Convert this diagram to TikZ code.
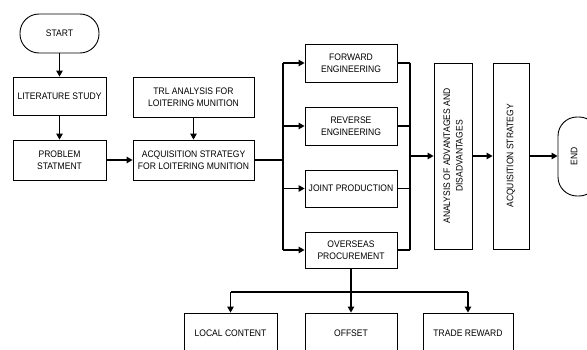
\documentclass[tikz,border=0pt]{standalone}
\usepackage{fontspec}
\setmainfont[FakeStretch=0.9]{Liberation Sans}
\usetikzlibrary{arrows.meta,calc}
\begin{document}
\begin{tikzpicture}[x=1pt,y=-1pt,
  every node/.style={font=\fontsize{9.5}{12.5}\selectfont},
  box/.style={draw, line width=0.9pt, inner sep=0pt, align=center},
  term/.style={box, rounded corners=19pt},
  arr/.style={line width=1.1pt, -{Triangle[length=6pt,width=6.5pt]}},
  ln/.style={line width=1.1pt}]
\useasboundingbox (0,0) rectangle (587,350);
\begin{scope}
\clip (0,0) rectangle (587,350);
\node[term, minimum width=79pt, minimum height=39pt] (start) at (59.5,33.5) {START};
\node[box, minimum width=93pt, minimum height=38pt] (lit) at (59.5,96) {LITERATURE STUDY};
\node[box, minimum width=93pt, minimum height=40pt] (prob) at (59.5,160) {PROBLEM\\STATMENT};
\node[box, minimum width=121pt, minimum height=40pt] (trl) at (193.5,97) {TRL ANALYSIS FOR\\LOITERING MUNITION};
\node[box, minimum width=121pt, minimum height=40pt] (acq) at (193.5,160) {ACQUISITION STRATEGY\\FOR LOITERING MUNITION};
\node[box, minimum width=92pt, minimum height=38pt] (fwd) at (351,63) {FORWARD\\ENGINEERING};
\node[box, minimum width=92pt, minimum height=38pt] (rev) at (351,126) {REVERSE\\ENGINEERING};
\node[box, minimum width=92pt, minimum height=37pt] (joint) at (351,188.5) {JOINT PRODUCTION};
\node[box, minimum width=92pt, minimum height=36pt] (over) at (351,250) {OVERSEAS\\PROCUREMENT};
\node[box, minimum width=38pt, minimum height=186pt] (ana) at (453,156) {};
\node[rotate=90, align=center] (anatxt) at (ana.center) {ANALYSIS OF ADVANTAGES AND\\DISADVANTAGES};
\node[box, minimum width=36pt, minimum height=186pt] (acqs) at (511,156) {};
\node[rotate=90] (acqstxt) at (acqs.center) {ACQUISITION STRATEGY};
\node[term, minimum width=40pt, minimum height=79pt] (end) at (578,156.5) {};
\node[rotate=90] (endtxt) at (574,156.5) {END};
\node[box, minimum width=93pt, minimum height=40pt] (local) at (230.5,333) {LOCAL CONTENT};
\node[box, minimum width=92pt, minimum height=40pt] (offset) at (351,333) {OFFSET};
\node[box, minimum width=90pt, minimum height=40pt] (trade) at (468,333) {TRADE REWARD};

\coordinate (busL) at (283,160);
\coordinate (busR) at (410,156);
\coordinate (busB) at (351,292);

\draw[arr] (start) -- (lit);
\draw[arr] (lit) -- (prob);
\draw[arr] (prob) -- (acq);
\draw[arr] (trl) -- (acq);
\draw[ln] (acq.east) -- (acq.east -| busL);
\draw[ln] (busL |- fwd.west) -- (busL |- over.west);
\foreach \b in {fwd,rev,joint,over} {
  \draw[arr] (busL |- \b.west) -- (\b.west);
  \draw[ln] (\b.east) -- (busR |- \b.east);
}
\draw[ln] (busR |- fwd.east) -- (busR |- over.east);
\draw[arr] (busR) -- (ana.west |- busR);
\draw[arr] (ana.east |- busR) -- (acqs.west |- busR);
\draw[arr] (acqs.east |- busR) -- (end.west |- busR);
\draw[ln] (over.south) -- (busB);
\draw[ln] (busB -| local.north) -- (busB -| trade.north);
\draw[arr] (busB -| local.north) -- (local.north);
\draw[arr] (busB) -- (offset.north);
\draw[arr] (busB -| trade.north) -- (trade.north);
\end{scope}
\end{tikzpicture}
\end{document}
